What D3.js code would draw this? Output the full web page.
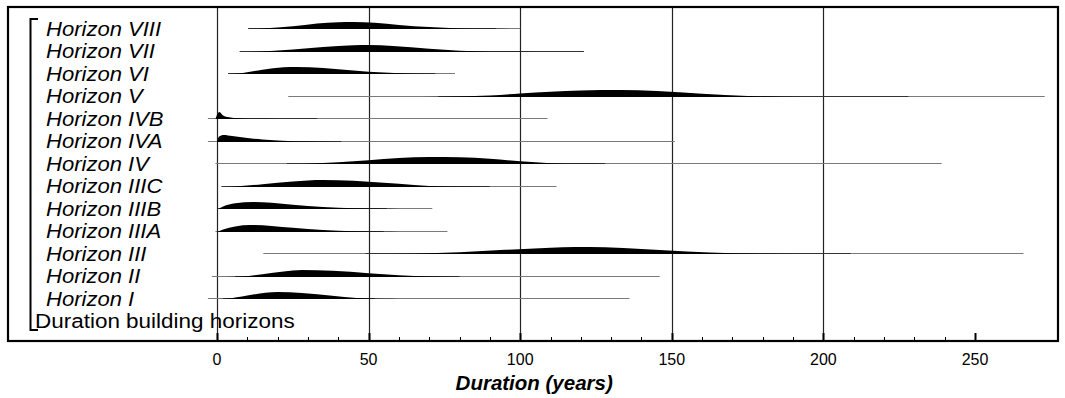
<!DOCTYPE html>
<html>
<head>
<meta charset="utf-8">
<script src="https://cdn.jsdelivr.net/npm/d3@7/dist/d3.min.js"></script>
<style>
  html, body { margin: 0; padding: 0; background: #fff; }
  svg { display: block; }
  text { font-family: "Liberation Sans", Arial, Helvetica, sans-serif; fill: #000; }
</style>
</head>
<body>
<svg id="chart" width="1065" height="398"></svg>
<script>
// ---------- DATA ----------
const horizons = ["Horizon VIII","Horizon VII","Horizon VI","Horizon V","Horizon IVB","Horizon IVA",
                  "Horizon IV","Horizon IIIC","Horizon IIIB","Horizon IIIA","Horizon III","Horizon II","Horizon I"];
const groupLabel = "Duration building horizons";
const axisTitle = "Duration (years)";
const majorTicks = [0, 50, 100, 150, 200, 250];
const gridValues = [0, 50, 100, 150, 200];
const minorTicks = [10,20,30,40,60,70,80,90,110,120,130,140,160,170,180,190,210,220,230,240];

// full range line (years) for each horizon
const rangeLo = [10.3, 7.5, 3.7, 23.5, -3, -3, -0.5, 1.5, 0.4, -0.5, 15.3, -1.7, -3];
const rangeHi = [100, 121, 78.5, 273, 109, 151, 239, 112, 71, 76, 266, 146, 136];
// darker inner range line
const innerLo = [10.3, 7.5, 3.7, 73, 0, 0, 23, 1.5, 0.4, 0, 49, 6, 2];
const innerHi = [92, 121, 72, 228, 33, 41, 128, 90, 56, 55, 209, 80, 52];

// relative probability densities [years, relative height]
const densVIII = [[10.3,0],[15,0.06],[25,0.38],[33,0.8],[40,0.98],[45,1],[52,0.88],[60,0.58],[70,0.27],[80,0.08],[90,0.02],[100,0]];
const densVII  = [[7.5,0],[13,0.05],[25,0.35],[35,0.72],[45,0.96],[50,1],[58,0.86],[70,0.45],[80,0.18],[90,0.05],[105,0.01],[121,0]];
const densVI   = [[3.7,0],[8,0.12],[15,0.62],[22,0.95],[26,1],[35,0.86],[45,0.5],[55,0.2],[65,0.05],[78.5,0]];
const densV    = [[23.5,0],[60,0.01],[75,0.05],[90,0.22],[100,0.5],[110,0.76],[120,0.93],[133,1],[145,0.85],[160,0.45],[175,0.15],[186,0.04],[200,0.01],[228,0]];
const densIVB  = [[-0.5,0],[0,0.6],[0.8,1],[2,0.5],[4,0.25],[7,0.1],[10,0.04],[20,0.01],[33,0]];
const densIVA  = [[0,0],[0.6,0.75],[2.2,1],[5,0.85],[10,0.56],[15,0.36],[20,0.2],[30,0.06],[40,0.01],[50,0]];
const densIV   = [[-0.5,0],[25,0.01],[30,0.05],[40,0.25],[50,0.55],[60,0.85],[70,1],[80,0.96],[90,0.75],[100,0.4],[110,0.12],[120,0.03],[128,0.01],[140,0]];
const densIIIC = [[1.5,0],[5,0.05],[15,0.4],[25,0.8],[35,1],[45,0.9],[55,0.6],[65,0.3],[75,0.08],[90,0.01],[100,0]];
const densIIIB = [[0.4,0],[2,0.35],[6,0.82],[12,1],[18,0.9],[25,0.6],[35,0.3],[45,0.1],[55,0.02],[60,0]];
const densIIIA = [[0,0],[2,0.35],[6,0.8],[11,1],[18,0.86],[25,0.6],[35,0.3],[45,0.1],[55,0.02],[60,0]];
const densIII  = [[15.3,0],[50,0.01],[65,0.05],[80,0.25],[95,0.6],[110,0.9],[118,1],[128,0.95],[140,0.7],[155,0.35],[170,0.12],[181,0.04],[200,0.01],[209,0]];
const densII   = [[-1.7,0],[6,0.03],[15,0.4],[22,0.8],[28,1],[38,0.9],[50,0.55],[60,0.25],[70,0.07],[80,0.01],[90,0]];
const densI    = [[-3,0],[3,0.05],[10,0.5],[16,0.9],[20,1],[28,0.85],[38,0.45],[46,0.15],[55,0.02],[60,0]];
const densities = [densVIII, densVII, densVI, densV, densIVB, densIVA, densIV, densIIIC, densIIIB, densIIIA, densIII, densII, densI];

// ---------- LAYOUT ----------
const svg = d3.select("#chart");
const frame = {x0: 8, y0: 7, x1: 1058, y1: 341};
const x = d3.scaleLinear().domain([0, 250]).range([217, 975]);
const y = d3.scalePoint().domain(horizons).range([28, 298]);
const rowStep = y.step();
const peakH = 7;

// grid lines
svg.append("g").selectAll("line").data(gridValues).join("line")
  .attr("x1", d => Math.round(x(d)) + 0.5).attr("x2", d => Math.round(x(d)) + 0.5)
  .attr("y1", frame.y0).attr("y2", frame.y1)
  .attr("stroke", "#222").attr("stroke-width", 1.2);

// range lines
const lines = svg.append("g");
horizons.forEach((h, i) => {
  const yy = Math.round(y(h)) + 0.5;
  lines.append("line").attr("x1", x(rangeLo[i])).attr("x2", x(rangeHi[i]))
    .attr("y1", yy).attr("y2", yy).attr("stroke", "#7a7a7a").attr("stroke-width", 1);
  lines.append("line").attr("x1", x(innerLo[i])).attr("x2", x(innerHi[i]))
    .attr("y1", yy).attr("y2", yy).attr("stroke", "#333").attr("stroke-width", 1);
});

// densities
const dens = svg.append("g");
horizons.forEach((h, i) => {
  const base = Math.round(y(h)) + 1;
  const area = d3.area()
    .x(d => x(d[0]))
    .y0(base)
    .y1(d => base - d[1] * peakH)
    .curve(d3.curveMonotoneX);
  dens.append("path").datum(densities[i]).attr("d", area).attr("fill", "#000");
});

// labels (slightly widened to match the reference lettering)
svg.append("g").selectAll("text").data(horizons).join("text")
  .attr("transform", d => `translate(46,${y(d) + 7.5}) scale(1.05,1)`)
  .attr("font-size", 21).attr("font-style", "italic")
  .text(d => d);
svg.append("text")
  .attr("transform", `translate(35,${y(horizons[horizons.length - 1]) + rowStep + 7.5}) scale(1.07,1)`)
  .attr("font-size", 21).text(groupLabel);

// bracket
const bTop = 19, bBot = 330;
svg.append("path")
  .attr("d", `M38,${bTop} H30.5 V${bBot} H38`)
  .attr("fill", "none").attr("stroke", "#000").attr("stroke-width", 2);

// ticks
svg.append("g").selectAll("line").data(minorTicks).join("line")
  .attr("x1", d => Math.round(x(d)) + 0.5).attr("x2", d => Math.round(x(d)) + 0.5)
  .attr("y1", frame.y1 - 4).attr("y2", frame.y1)
  .attr("stroke", "#000").attr("stroke-width", 1);
svg.append("g").selectAll("line").data(majorTicks).join("line")
  .attr("x1", d => Math.round(x(d)) + 0.5).attr("x2", d => Math.round(x(d)) + 0.5)
  .attr("y1", frame.y1 - 8).attr("y2", frame.y1)
  .attr("stroke", "#000").attr("stroke-width", 2);

// frame
svg.append("rect").attr("x", frame.x0).attr("y", frame.y0)
  .attr("width", frame.x1 - frame.x0).attr("height", frame.y1 - frame.y0)
  .attr("fill", "none").attr("stroke", "#000").attr("stroke-width", 2.2);

// tick labels
svg.append("g").selectAll("text").data(majorTicks).join("text")
  .attr("x", d => x(d)).attr("y", 365)
  .attr("text-anchor", "middle").attr("font-size", 16)
  .text(d => d);

// axis title
svg.append("text").attr("x", x(100) + 14).attr("y", 390)
  .attr("text-anchor", "middle").attr("font-size", 20.5)
  .attr("font-weight", "bold").attr("font-style", "italic")
  .text(axisTitle);
</script>
</body>
</html>
